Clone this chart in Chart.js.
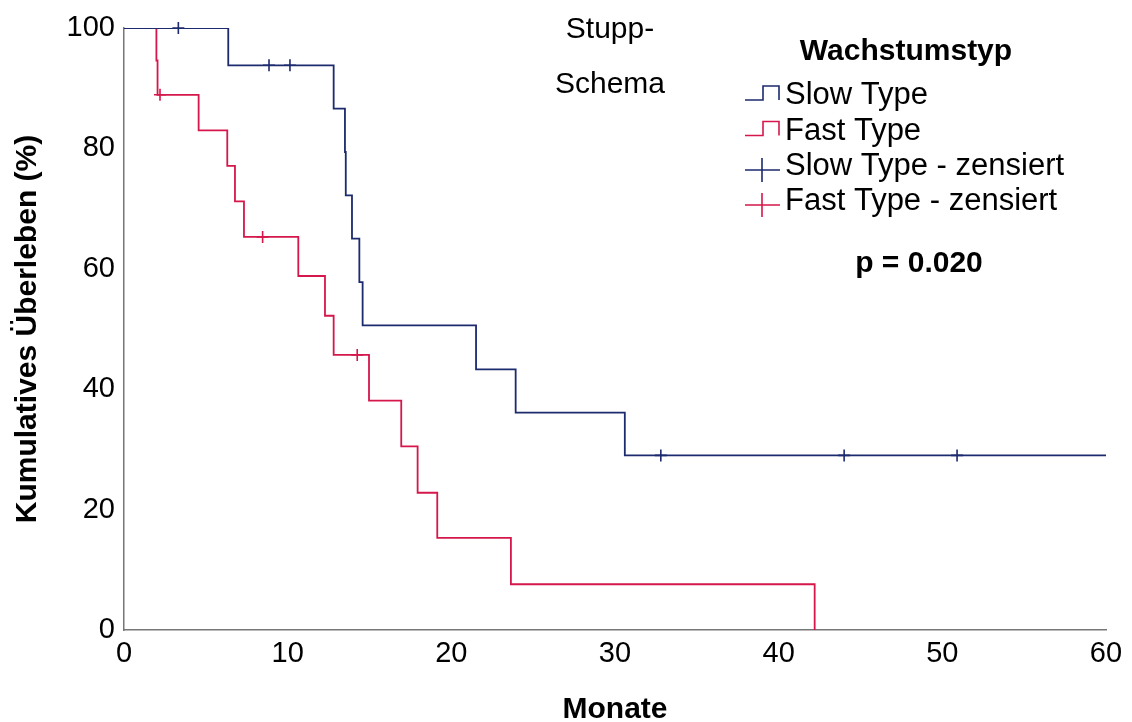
<!DOCTYPE html>
<html>
<head>
<meta charset="utf-8">
<script src="https://cdn.jsdelivr.net/npm/chart.js@4/dist/chart.umd.min.js"></script>
<style>
  html, body { margin: 0; padding: 0; background: #fff; }
  #wrap { width: 1132px; height: 722px; }
</style>
</head>
<body>
<div id="wrap"><canvas id="kmChart"></canvas></div>
<script>
// Kaplan-Meier curves, values
const slowTimes = [0, 6.37, 12.81, 13.50, 13.55, 13.93, 14.38, 14.58, 21.51, 23.93, 30.60, 60];
const slowSurv  = [100, 93.8, 86.6, 79.4, 72.2, 65.0, 57.8, 50.6, 43.3, 36.1, 29.0, 29.0];

const fastTimes = [0, 1.98, 2.05, 4.56, 6.31, 6.78, 7.33, 10.65, 12.28, 12.81, 14.97, 16.94, 17.94, 19.14, 23.64, 42.2];
const fastSurv  = [100, 94.6, 88.9, 83.0, 77.1, 71.2, 65.3, 58.8, 52.2, 45.7, 38.1, 30.5, 22.8, 15.3, 7.6, 0];

// censored cases
const slowCensorTimes = [3.32, 8.86, 10.14, 32.8, 44.0, 50.9];
const slowCensorSurv  = [100, 93.8, 93.8, 29.0, 29.0, 29.0];
const fastCensorTimes = [2.2, 8.47, 14.25];
const fastCensorSurv  = [88.9, 65.3, 45.7];

const xTicks = [0, 10, 20, 30, 40, 50, 60];
const yTicks = [0, 20, 40, 60, 80, 100];

const legendTitle = "Wachstumstyp";
const legendLabels = ["Slow Type", "Fast Type", "Slow Type - zensiert", "Fast Type - zensiert"];
const chartTitle = ["Stupp-", "Schema"];
const pValueText = "p = 0.020";

const BLUE = "#1c2a6e";
const RED = "#d5174b";
const FONT = "'Liberation Sans', Arial, sans-serif";

function toPoints(xs, ys) {
  return xs.map((x, i) => ({ x: x, y: ys[i] }));
}

// ------------------------------------------------------------
// Overlay: title, legend, p-value
// ------------------------------------------------------------
const overlayPlugin = {
  id: "overlay",
  afterDraw(chart) {
    const ctx = chart.ctx;
    ctx.save();
    ctx.fillStyle = "#000";
    ctx.textBaseline = "alphabetic";

    // title in two lines
    ctx.font = "30px " + FONT;
    ctx.textAlign = "center";
    ctx.fillText(chartTitle[0], 610, 38);
    ctx.fillText(chartTitle[1], 610, 93);

    // legend title
    ctx.font = "bold 30px " + FONT;
    ctx.fillText(legendTitle, 906, 60);

    // p value
    ctx.fillText(pValueText, 919, 272);

    // legend items
    const rows = [104, 139.5, 175, 210];
    const colors = [BLUE, RED, BLUE, RED];
    ctx.lineWidth = 1.6;
    rows.forEach((base, i) => {
      const mid = base - 5;
      ctx.strokeStyle = colors[i];
      ctx.beginPath();
      if (i < 2) {
        ctx.moveTo(745, mid + 1);
        ctx.lineTo(763, mid + 1);
        ctx.lineTo(763, mid - 13);
        ctx.lineTo(779, mid - 13);
        ctx.lineTo(779, mid + 1);
      } else {
        ctx.moveTo(745, mid);
        ctx.lineTo(780, mid);
        ctx.moveTo(762, mid - 12);
        ctx.lineTo(762, mid + 12);
      }
      ctx.stroke();
    });
    ctx.font = "31px " + FONT;
    ctx.textAlign = "left";
    ctx.fillStyle = "#000";
    rows.forEach((base, i) => ctx.fillText(legendLabels[i], 785, base));

    ctx.restore();
  }
};

const ctx = document.getElementById("kmChart");

new Chart(ctx, {
  type: "line",
  data: {
    datasets: [
      {
        label: legendLabels[0],
        data: toPoints(slowTimes, slowSurv),
        borderColor: BLUE,
        borderWidth: 1.8,
        stepped: true,
        pointRadius: 0,
        fill: false
      },
      {
        label: legendLabels[1],
        data: toPoints(fastTimes, fastSurv),
        borderColor: RED,
        borderWidth: 1.8,
        stepped: true,
        pointRadius: 0,
        fill: false
      },
      {
        label: legendLabels[2],
        data: toPoints(slowCensorTimes, slowCensorSurv),
        showLine: false,
        pointStyle: "cross",
        pointRadius: 6,
        borderColor: BLUE,
        pointBorderWidth: 1.6,
        clip: false
      },
      {
        label: legendLabels[3],
        data: toPoints(fastCensorTimes, fastCensorSurv),
        showLine: false,
        pointStyle: "cross",
        pointRadius: 6,
        borderColor: RED,
        pointBorderWidth: 1.6,
        clip: false
      }
    ]
  },
  options: {
    responsive: true,
    maintainAspectRatio: false,
    animation: false,
    layout: { padding: { top: 28, right: 26, left: 0, bottom: 0 } },
    plugins: {
      legend: { display: false },
      tooltip: { enabled: false }
    },
    scales: {
      x: {
        type: "linear",
        min: 0,
        max: 60,
        afterBuildTicks: scale => { scale.ticks = xTicks.map(v => ({ value: v })); },
        afterFit: scale => { scale.height = 92; },
        grid: { display: false, drawTicks: false },
        border: { display: true, color: "#777", width: 1.5 },
        ticks: {
          color: "#000",
          padding: 7,
          maxRotation: 0,
          font: { family: FONT, size: 29 }
        },
        title: {
          display: true,
          text: "Monate",
          color: "#000",
          padding: { top: 0, bottom: -6 },
          font: { family: FONT, size: 30, weight: "bold" }
        }
      },
      y: {
        min: 0,
        max: 100,
        afterBuildTicks: scale => { scale.ticks = yTicks.map(v => ({ value: v })); },
        afterFit: scale => { scale.width = 124; },
        grid: { display: false, drawTicks: false },
        border: { display: true, color: "#777", width: 1.5 },
        ticks: {
          color: "#000",
          padding: 9,
          font: { family: FONT, size: 29 }
        },
        title: {
          display: true,
          text: "Kumulatives Überleben (%)",
          color: "#000",
          padding: { top: 10, bottom: 10 },
          font: { family: FONT, size: 30, weight: "bold" }
        }
      }
    }
  },
  plugins: [overlayPlugin]
});
</script>
</body>
</html>
